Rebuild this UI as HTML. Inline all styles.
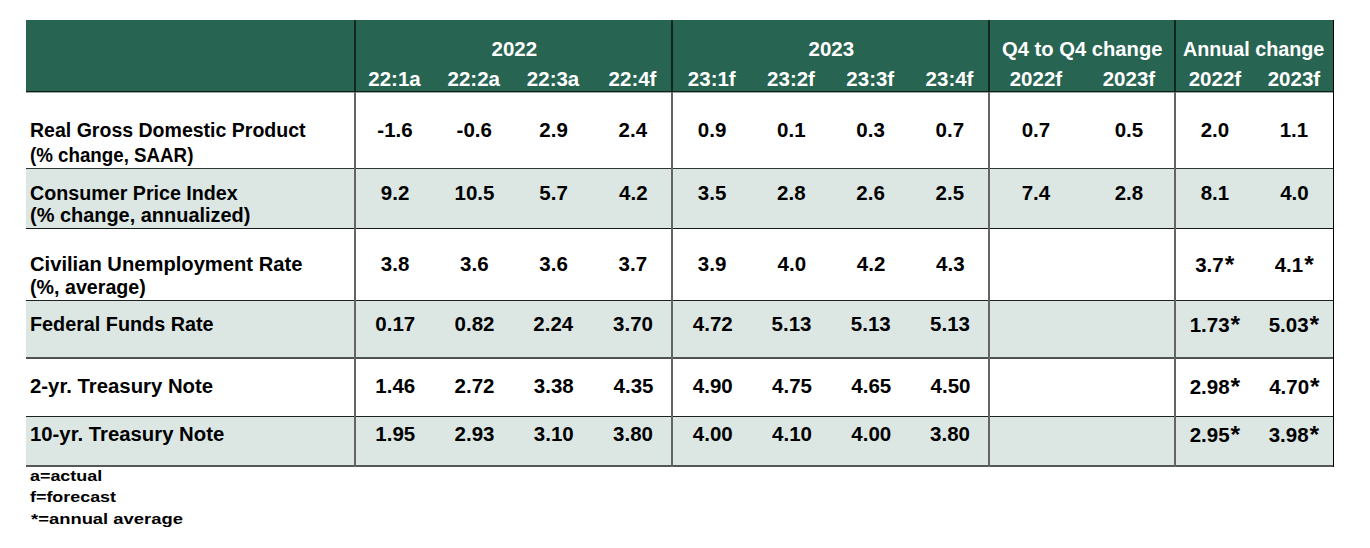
<!DOCTYPE html>
<html><head><meta charset="utf-8"><style>
*{margin:0;padding:0}
html,body{width:1370px;height:548px;background:#fff;overflow:hidden;position:relative}
.b{position:absolute}
.a{font-size:1.2em;position:relative;top:1.5px;margin-left:1px}
.t{position:absolute;white-space:pre;line-height:0;font-family:'Liberation Sans', sans-serif;font-weight:bold;transform-origin:0 0}
</style></head><body>
<div class="b" style="left:26px;top:20px;width:1308px;height:71px;background:#276452"></div><div class="b" style="left:26px;top:169px;width:1307px;height:59px;background:#dce7e4"></div><div class="b" style="left:26px;top:301px;width:1307px;height:57px;background:#dce7e4"></div><div class="b" style="left:26px;top:417px;width:1307px;height:49px;background:#dce7e4"></div><div class="b" style="left:26px;top:91px;width:1308px;height:1px;background:#082018"></div><div class="b" style="left:26px;top:92px;width:1308px;height:1px;background:#a0a5a3"></div><div class="b" style="left:26px;top:168px;width:1308px;height:1px;background:#303634"></div><div class="b" style="left:26px;top:228px;width:1308px;height:1px;background:#151917"></div><div class="b" style="left:26px;top:300px;width:1308px;height:1px;background:#1f2321"></div><div class="b" style="left:26px;top:357px;width:1308px;height:2px;background:#4e5252"></div><div class="b" style="left:26px;top:416px;width:1308px;height:1px;background:#1e2220"></div><div class="b" style="left:26px;top:465px;width:1308px;height:2px;background:#545858"></div><div class="b" style="left:354px;top:20px;width:2px;height:71px;background:#11261e"></div><div class="b" style="left:354px;top:92px;width:2px;height:375px;background:#646464"></div><div class="b" style="left:671px;top:20px;width:2px;height:71px;background:#11261e"></div><div class="b" style="left:671px;top:92px;width:2px;height:375px;background:#646464"></div><div class="b" style="left:988px;top:20px;width:2px;height:71px;background:#11261e"></div><div class="b" style="left:988px;top:92px;width:2px;height:375px;background:#646464"></div><div class="b" style="left:1174px;top:20px;width:2px;height:71px;background:#11261e"></div><div class="b" style="left:1174px;top:92px;width:2px;height:375px;background:#646464"></div><div class="b" style="left:1333px;top:20px;width:1px;height:447px;background:#000"></div>
<span class="t" style="left:491.50px;top:48.70px;font-size:20.5px;color:#ffffff;transform:scaleX(1.0000)">2022</span><span class="t" style="left:808.50px;top:48.70px;font-size:20.5px;color:#ffffff;transform:scaleX(1.0000)">2023</span><span class="t" style="left:1001.74px;top:48.87px;font-size:20.0px;color:#ffffff;transform:scaleX(1.0096)">Q4 to Q4 change</span><span class="t" style="left:1183.01px;top:48.87px;font-size:20.0px;color:#ffffff;transform:scaleX(0.9859)">Annual change</span><span class="t" style="left:368.32px;top:78.60px;font-size:20.5px;color:#ffffff;transform:scaleX(1.0000)">22:1a</span><span class="t" style="left:447.57px;top:78.60px;font-size:20.5px;color:#ffffff;transform:scaleX(1.0000)">22:2a</span><span class="t" style="left:526.83px;top:78.60px;font-size:20.5px;color:#ffffff;transform:scaleX(1.0000)">22:3a</span><span class="t" style="left:608.58px;top:78.60px;font-size:20.5px;color:#ffffff;transform:scaleX(1.0000)">22:4f</span><span class="t" style="left:687.83px;top:78.60px;font-size:20.5px;color:#ffffff;transform:scaleX(1.0000)">23:1f</span><span class="t" style="left:767.08px;top:78.60px;font-size:20.5px;color:#ffffff;transform:scaleX(1.0000)">23:2f</span><span class="t" style="left:846.33px;top:78.60px;font-size:20.5px;color:#ffffff;transform:scaleX(1.0000)">23:3f</span><span class="t" style="left:925.58px;top:78.60px;font-size:20.5px;color:#ffffff;transform:scaleX(1.0000)">23:4f</span><span class="t" style="left:1009.70px;top:78.60px;font-size:20.5px;color:#ffffff;transform:scaleX(1.0000)">2022f</span><span class="t" style="left:1102.70px;top:78.60px;font-size:20.5px;color:#ffffff;transform:scaleX(1.0000)">2023f</span><span class="t" style="left:1188.70px;top:78.60px;font-size:20.5px;color:#ffffff;transform:scaleX(1.0000)">2022f</span><span class="t" style="left:1267.70px;top:78.60px;font-size:20.5px;color:#ffffff;transform:scaleX(1.0000)">2023f</span><span class="t" style="left:30.02px;top:129.97px;font-size:20.0px;color:#000000;transform:scaleX(0.9762)">Real Gross Domestic Product</span><span class="t" style="left:30.06px;top:154.57px;font-size:20.0px;color:#000000;transform:scaleX(0.9364)">(% change, SAAR)</span><span class="t" style="left:377.32px;top:129.80px;font-size:20.5px;color:#000000;transform:scaleX(1.0000)">-1.6</span><span class="t" style="left:456.57px;top:129.80px;font-size:20.5px;color:#000000;transform:scaleX(1.0000)">-0.6</span><span class="t" style="left:539.33px;top:129.80px;font-size:20.5px;color:#000000;transform:scaleX(1.0000)">2.9</span><span class="t" style="left:618.58px;top:129.80px;font-size:20.5px;color:#000000;transform:scaleX(1.0000)">2.4</span><span class="t" style="left:697.83px;top:129.80px;font-size:20.5px;color:#000000;transform:scaleX(1.0000)">0.9</span><span class="t" style="left:777.08px;top:129.80px;font-size:20.5px;color:#000000;transform:scaleX(1.0000)">0.1</span><span class="t" style="left:856.33px;top:129.80px;font-size:20.5px;color:#000000;transform:scaleX(1.0000)">0.3</span><span class="t" style="left:935.58px;top:129.80px;font-size:20.5px;color:#000000;transform:scaleX(1.0000)">0.7</span><span class="t" style="left:1021.70px;top:129.80px;font-size:20.5px;color:#000000;transform:scaleX(1.0000)">0.7</span><span class="t" style="left:1114.70px;top:129.80px;font-size:20.5px;color:#000000;transform:scaleX(1.0000)">0.5</span><span class="t" style="left:1200.70px;top:129.80px;font-size:20.5px;color:#000000;transform:scaleX(1.0000)">2.0</span><span class="t" style="left:1279.70px;top:129.80px;font-size:20.5px;color:#000000;transform:scaleX(1.0000)">1.1</span><span class="t" style="left:30.02px;top:192.87px;font-size:20.0px;color:#000000;transform:scaleX(0.9838)">Consumer Price Index</span><span class="t" style="left:30.00px;top:214.57px;font-size:20.0px;color:#000000;transform:scaleX(0.9968)">(% change, annualized)</span><span class="t" style="left:380.82px;top:192.70px;font-size:20.5px;color:#000000;transform:scaleX(1.0000)">9.2</span><span class="t" style="left:454.57px;top:192.70px;font-size:20.5px;color:#000000;transform:scaleX(1.0000)">10.5</span><span class="t" style="left:539.33px;top:192.70px;font-size:20.5px;color:#000000;transform:scaleX(1.0000)">5.7</span><span class="t" style="left:619.08px;top:192.70px;font-size:20.5px;color:#000000;transform:scaleX(1.0000)">4.2</span><span class="t" style="left:697.83px;top:192.70px;font-size:20.5px;color:#000000;transform:scaleX(1.0000)">3.5</span><span class="t" style="left:777.08px;top:192.70px;font-size:20.5px;color:#000000;transform:scaleX(1.0000)">2.8</span><span class="t" style="left:856.33px;top:192.70px;font-size:20.5px;color:#000000;transform:scaleX(1.0000)">2.6</span><span class="t" style="left:935.58px;top:192.70px;font-size:20.5px;color:#000000;transform:scaleX(1.0000)">2.5</span><span class="t" style="left:1021.70px;top:192.70px;font-size:20.5px;color:#000000;transform:scaleX(1.0000)">7.4</span><span class="t" style="left:1114.70px;top:192.70px;font-size:20.5px;color:#000000;transform:scaleX(1.0000)">2.8</span><span class="t" style="left:1200.70px;top:192.70px;font-size:20.5px;color:#000000;transform:scaleX(1.0000)">8.1</span><span class="t" style="left:1280.20px;top:192.70px;font-size:20.5px;color:#000000;transform:scaleX(1.0000)">4.0</span><span class="t" style="left:29.99px;top:264.07px;font-size:20.0px;color:#000000;transform:scaleX(1.0086)">Civilian Unemployment Rate</span><span class="t" style="left:30.02px;top:287.37px;font-size:20.0px;color:#000000;transform:scaleX(0.9828)">(%, average)</span><span class="t" style="left:380.82px;top:263.90px;font-size:20.5px;color:#000000;transform:scaleX(1.0000)">3.8</span><span class="t" style="left:460.07px;top:263.90px;font-size:20.5px;color:#000000;transform:scaleX(1.0000)">3.6</span><span class="t" style="left:539.33px;top:263.90px;font-size:20.5px;color:#000000;transform:scaleX(1.0000)">3.6</span><span class="t" style="left:618.58px;top:263.90px;font-size:20.5px;color:#000000;transform:scaleX(1.0000)">3.7</span><span class="t" style="left:697.83px;top:263.90px;font-size:20.5px;color:#000000;transform:scaleX(1.0000)">3.9</span><span class="t" style="left:777.58px;top:263.90px;font-size:20.5px;color:#000000;transform:scaleX(1.0000)">4.0</span><span class="t" style="left:856.83px;top:263.90px;font-size:20.5px;color:#000000;transform:scaleX(1.0000)">4.2</span><span class="t" style="left:936.08px;top:263.90px;font-size:20.5px;color:#000000;transform:scaleX(1.0000)">4.3</span><span class="t" style="left:1195.20px;top:263.90px;font-size:20.5px;color:#000000;transform:scaleX(1.0000)">3.7<span class="a">*</span></span><span class="t" style="left:1274.70px;top:263.90px;font-size:20.5px;color:#000000;transform:scaleX(1.0000)">4.1<span class="a">*</span></span><span class="t" style="left:30.01px;top:323.87px;font-size:20.0px;color:#000000;transform:scaleX(0.9891)">Federal Funds Rate</span><span class="t" style="left:375.32px;top:323.70px;font-size:20.5px;color:#000000;transform:scaleX(1.0000)">0.17</span><span class="t" style="left:454.57px;top:323.70px;font-size:20.5px;color:#000000;transform:scaleX(1.0000)">0.82</span><span class="t" style="left:533.33px;top:323.70px;font-size:20.5px;color:#000000;transform:scaleX(1.0000)">2.24</span><span class="t" style="left:613.08px;top:323.70px;font-size:20.5px;color:#000000;transform:scaleX(1.0000)">3.70</span><span class="t" style="left:692.83px;top:323.70px;font-size:20.5px;color:#000000;transform:scaleX(1.0000)">4.72</span><span class="t" style="left:771.58px;top:323.70px;font-size:20.5px;color:#000000;transform:scaleX(1.0000)">5.13</span><span class="t" style="left:850.83px;top:323.70px;font-size:20.5px;color:#000000;transform:scaleX(1.0000)">5.13</span><span class="t" style="left:930.08px;top:323.70px;font-size:20.5px;color:#000000;transform:scaleX(1.0000)">5.13</span><span class="t" style="left:1189.70px;top:323.70px;font-size:20.5px;color:#000000;transform:scaleX(1.0000)">1.73<span class="a">*</span></span><span class="t" style="left:1268.70px;top:323.70px;font-size:20.5px;color:#000000;transform:scaleX(1.0000)">5.03<span class="a">*</span></span><span class="t" style="left:29.98px;top:386.07px;font-size:20.0px;color:#000000;transform:scaleX(1.0168)">2-yr. Treasury Note</span><span class="t" style="left:375.32px;top:385.90px;font-size:20.5px;color:#000000;transform:scaleX(1.0000)">1.46</span><span class="t" style="left:454.57px;top:385.90px;font-size:20.5px;color:#000000;transform:scaleX(1.0000)">2.72</span><span class="t" style="left:533.83px;top:385.90px;font-size:20.5px;color:#000000;transform:scaleX(1.0000)">3.38</span><span class="t" style="left:613.58px;top:385.90px;font-size:20.5px;color:#000000;transform:scaleX(1.0000)">4.35</span><span class="t" style="left:692.83px;top:385.90px;font-size:20.5px;color:#000000;transform:scaleX(1.0000)">4.90</span><span class="t" style="left:772.08px;top:385.90px;font-size:20.5px;color:#000000;transform:scaleX(1.0000)">4.75</span><span class="t" style="left:851.33px;top:385.90px;font-size:20.5px;color:#000000;transform:scaleX(1.0000)">4.65</span><span class="t" style="left:930.58px;top:385.90px;font-size:20.5px;color:#000000;transform:scaleX(1.0000)">4.50</span><span class="t" style="left:1189.70px;top:385.90px;font-size:20.5px;color:#000000;transform:scaleX(1.0000)">2.98<span class="a">*</span></span><span class="t" style="left:1269.20px;top:385.90px;font-size:20.5px;color:#000000;transform:scaleX(1.0000)">4.70<span class="a">*</span></span><span class="t" style="left:29.98px;top:434.07px;font-size:20.0px;color:#000000;transform:scaleX(1.0158)">10-yr. Treasury Note</span><span class="t" style="left:375.32px;top:433.90px;font-size:20.5px;color:#000000;transform:scaleX(1.0000)">1.95</span><span class="t" style="left:454.57px;top:433.90px;font-size:20.5px;color:#000000;transform:scaleX(1.0000)">2.93</span><span class="t" style="left:533.83px;top:433.90px;font-size:20.5px;color:#000000;transform:scaleX(1.0000)">3.10</span><span class="t" style="left:613.08px;top:433.90px;font-size:20.5px;color:#000000;transform:scaleX(1.0000)">3.80</span><span class="t" style="left:692.83px;top:433.90px;font-size:20.5px;color:#000000;transform:scaleX(1.0000)">4.00</span><span class="t" style="left:772.08px;top:433.90px;font-size:20.5px;color:#000000;transform:scaleX(1.0000)">4.10</span><span class="t" style="left:851.33px;top:433.90px;font-size:20.5px;color:#000000;transform:scaleX(1.0000)">4.00</span><span class="t" style="left:930.08px;top:433.90px;font-size:20.5px;color:#000000;transform:scaleX(1.0000)">3.80</span><span class="t" style="left:1189.70px;top:433.90px;font-size:20.5px;color:#000000;transform:scaleX(1.0000)">2.95<span class="a">*</span></span><span class="t" style="left:1268.70px;top:433.90px;font-size:20.5px;color:#000000;transform:scaleX(1.0000)">3.98<span class="a">*</span></span><span class="t" style="left:30.00px;top:475.93px;font-size:15.5px;color:#000000;transform:scaleX(1.1548)">a=actual</span><span class="t" style="left:30.20px;top:497.33px;font-size:15.5px;color:#000000;transform:scaleX(1.1541)">f=forecast</span><span class="t" style="left:31.00px;top:518.93px;font-size:15.5px;color:#000000;transform:scaleX(1.1874)">*=annual average</span>
</body></html>
